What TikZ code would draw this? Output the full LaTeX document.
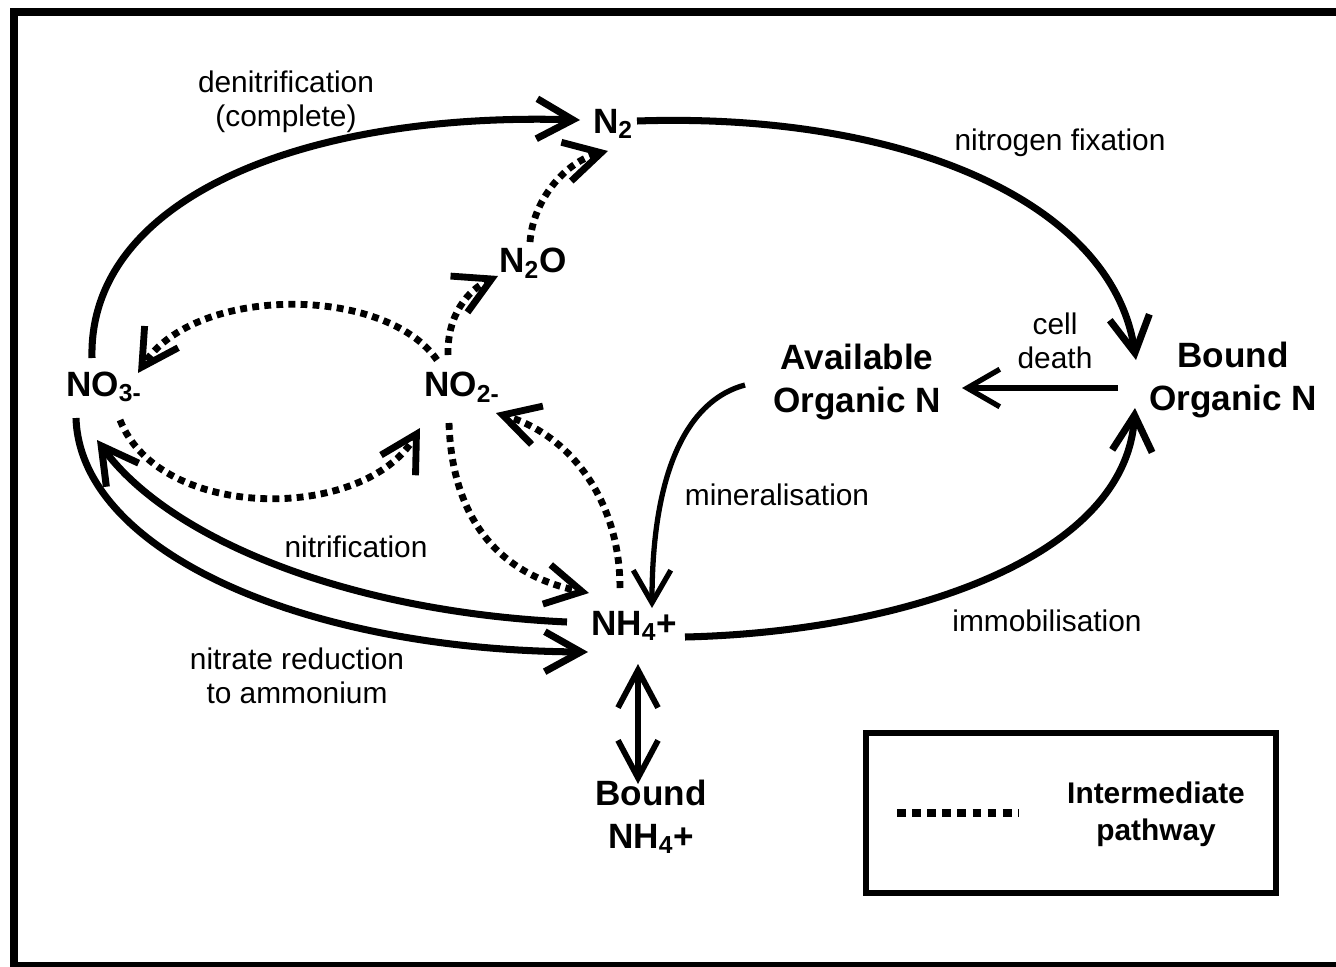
\documentclass[tikz,border=0pt]{standalone}
\usepackage{fontspec}
\setmainfont{Liberation Sans}
\usetikzlibrary{arrows.meta}
\begin{document}
\begin{tikzpicture}[x=0.02cm,y=-0.02cm,
  big/.style={font=\fontsize{20}{24.5}\selectfont\bfseries, align=center, inner sep=0pt},
  lbl/.style={font=\fontsize{17}{19.5}\selectfont, align=center, inner sep=0pt},
  leg/.style={font=\fontsize{17}{21}\selectfont\bfseries, align=center, inner sep=0pt},
  barb/.tip={Straight Barb[length=0.72cm,width=0.8cm]},
  flow/.style={line width=4pt, -{barb}},
  thinflow/.style={line width=3pt, -{Straight Barb[length=0.65cm,width=0.75cm]}},
  dots/.style={line width=3.9pt, dash pattern=on 3.9pt off 3pt, -{barb}},
  both/.style={line width=3.3pt, {Straight Barb[length=0.75cm,width=0.8cm]}-{Straight Barb[length=0.75cm,width=0.8cm]}}
]
\useasboundingbox (0,0) rectangle (1336,967);
\fill[white] (0,0) rectangle (1336,967);
\draw[line width=4pt] (14,12) rectangle (1350,966);

% nodes
\node[big] (n2) at (613,124) {N\textsubscript{2}};
\node[big] (n2o) at (533,263) {N\textsubscript{2}O};
\node[big] (no3) at (104,387) {NO\textsubscript{3-}};
\node[big] (no2) at (462,387) {NO\textsubscript{2-}};
\node[big] (aon) at (857,382) {Available\\Organic N};
\node[big] (bon) at (1233,380) {Bound\\Organic N};
\node[big] (nh4) at (634,626) {NH\textsubscript{4}+};
\node[big] (bnh4) at (651,817) {Bound\\NH\textsubscript{4}+};

% labels
\node[lbl] (ldenit) at (286,102) {denitrification\\(complete)};
\node[lbl] (lfix) at (1060,143) {nitrogen fixation};
\node[lbl] (lcell) at (1055,341) {cell\\death};
\node[lbl] (lmin) at (777,495) {mineralisation};
\node[lbl] (lnit) at (356,547) {nitrification};
\node[lbl] (limm) at (1047,621) {immobilisation};
\node[lbl] (lred) at (297,676) {nitrate reduction\\to ammonium};

% endpoints
\coordinate (no3-top) at (92,358);
\coordinate (n2-in) at (580,120);
\coordinate (n2-out) at (637,121);
\coordinate (bon-in) at (1136,360);
\coordinate (bon-left) at (1118,388);
\coordinate (aon-right) at (962,388);
\coordinate (aon-left) at (745,385);
\coordinate (nh4-top) at (652,608);
\coordinate (nh4-right) at (685,637);
\coordinate (bon-bot) at (1135,408);
\coordinate (nh4-bot) at (638,664);
\coordinate (bnh4-top) at (638,784);
\coordinate (nh4-left1) at (567,622);
\coordinate (no3-br) at (97,440);
\coordinate (no3-bot) at (76,418);
\coordinate (nh4-left2) at (588,652);
\coordinate (no2-tl) at (437,360);
\coordinate (no3-tr) at (138,373);
\coordinate (no3-rb) at (120,420);
\coordinate (no2-bl) at (420,428);
\coordinate (no2-top) at (448,355);
\coordinate (n2o-in) at (498,276);
\coordinate (n2o-top) at (530,242);
\coordinate (n2-in2) at (608,151);
\coordinate (no2-bot) at (449,423);
\coordinate (nh4-tl) at (589,593);
\coordinate (nh4-tr) at (620,588);
\coordinate (no2-r) at (496,413);

% solid flows
\draw[flow] (no3-top) .. controls (88,200) and (300,112) .. (n2-in);
\draw[flow] (n2-out) .. controls (900,112) and (1112,200) .. (bon-in);
\draw[thinflow] (bon-left) -- (aon-right);
\draw[thinflow] (aon-left) .. controls (688,400) and (652,470) .. (nh4-top);
\draw[flow] (nh4-right) .. controls (900,632) and (1125,560) .. (bon-bot);
\draw[both] (nh4-bot) -- (bnh4-top);
\draw[flow] (nh4-left1) .. controls (350,612) and (170,540) .. (no3-br);
\draw[flow] (no3-bot) .. controls (80,550) and (300,650) .. (nh4-left2);

% intermediate (dotted) flows
\draw[dots] (no2-tl) .. controls (385,285) and (195,285) .. (no3-tr);
\draw[dots] (no3-rb) .. controls (160,522) and (365,522) .. (no2-bl);
\draw[dots] (no2-top) .. controls (447,315) and (468,290) .. (n2o-in);
\draw[dots] (n2o-top) .. controls (533,200) and (565,162) .. (n2-in2);
\draw[dots] (no2-bot) .. controls (452,520) and (500,575) .. (nh4-tl);
\draw[dots] (nh4-tr) .. controls (620,500) and (570,435) .. (no2-r);

% legend
\node[draw, line width=3pt, minimum width=410*0.02cm, minimum height=160*0.02cm, inner sep=0pt] (legbox) at (1071,813) {};
\coordinate (legA) at (897,813);
\coordinate (legB) at (1019,813);
\draw[line width=4.5pt, dash pattern=on 5pt off 3.6pt] (legA) -- (legB);
\node[leg] (legtxt) at (1156,814) {Intermediate\\pathway};
\end{tikzpicture}
\end{document}
